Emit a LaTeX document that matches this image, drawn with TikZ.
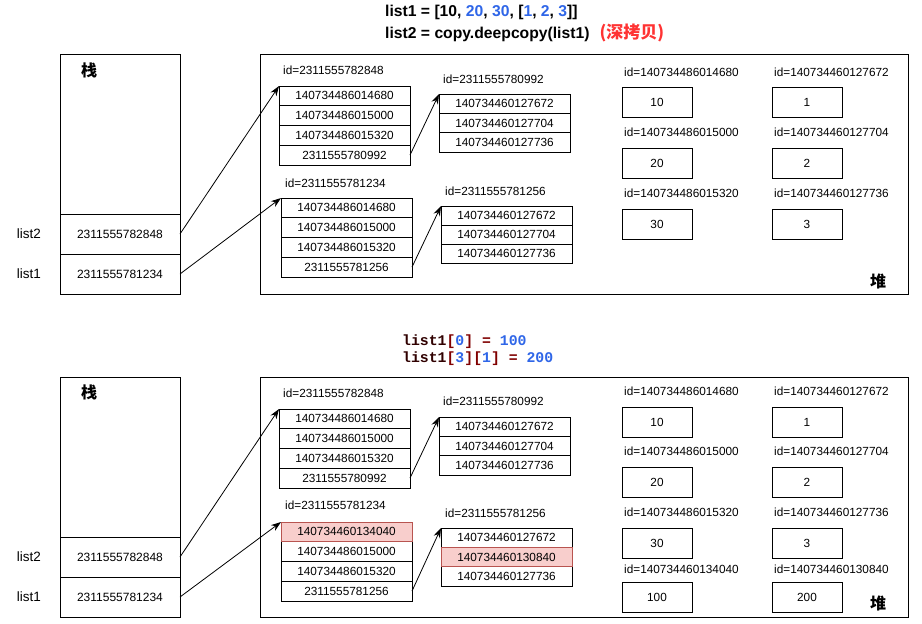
\documentclass[tikz,border=0pt]{standalone}
\usepackage{fontspec}
\setmainfont{Liberation Sans}
\newfontfamily\cjk{Noto Sans CJK SC}
\newfontfamily\codefont{Liberation Mono}
\usetikzlibrary{arrows.meta}
\definecolor{numblue}{HTML}{2F66E8}
\definecolor{cjkred}{HTML}{FF3333}
\definecolor{codered}{HTML}{800000}
\definecolor{codedark}{HTML}{300000}
\definecolor{pinkfill}{HTML}{F8CECC}
\definecolor{pinkdraw}{HTML}{B85450}
\tikzset{
  region/.style={draw, line width=1pt, inner sep=0pt, outer sep=0pt},
  cell/.style={draw, line width=0.9pt, minimum width=131pt, minimum height=19.75pt, inner sep=0pt, outer sep=0pt, font=\fontsize{11.8}{13}\selectfont},
  cellb/.style={cell, minimum height=19.33pt},
  stackcell/.style={draw, line width=1pt, minimum width=120pt, minimum height=40pt, inner sep=0pt, outer sep=0pt, font=\fontsize{12}{13}\selectfont},
  hl/.style={fill=pinkfill, draw=pinkdraw},
  idlbl/.style={anchor=west, inner sep=0pt, font=\fontsize{11.8}{13}\selectfont},
  varlbl/.style={inner sep=0pt, font=\fontsize{13.5}{15}\selectfont},
  valbox/.style={draw, line width=0.9pt, minimum width=70pt, minimum height=30pt, inner sep=0pt, outer sep=0pt, font=\fontsize{11.8}{13}\selectfont},
  cjklbl/.style={inner sep=0pt, font=\cjk\bfseries\fontsize{16}{18}\selectfont},
  ptr/.style={-{Stealth[length=10pt,width=7pt]}, line width=0.8pt},
  titletxt/.style={anchor=base west, inner sep=0pt, font=\bfseries\fontsize{15.7}{18}\selectfont},
  codetxt/.style={anchor=base west, inner sep=0pt, font=\codefont\bfseries\fontsize{14.8}{17}\selectfont}
}
\begin{document}
\begin{tikzpicture}[x=1pt,y=-1pt]
\useasboundingbox (0,0) rectangle (922,624);
\fill[white] (0,0) rectangle (922,624);

% ================= TOP PANEL =================
\node[titletxt] (t1) at (385,16.5) {list1 = [10, \textcolor{numblue}{20}, \textcolor{numblue}{30}, [\textcolor{numblue}{1}, \textcolor{numblue}{2}, \textcolor{numblue}{3}]]};
\node[titletxt] (t2) at (385,38.5) {list2 = copy.deepcopy(list1)\hspace{10pt}{\cjk\color{cjkred}\fontsize{17}{19}\selectfont(深拷贝)}};

\node[region, minimum width=120pt, minimum height=240pt] (stackA) at (120,174) {};
\node[cjklbl] (zhanA) at (89,70) {栈};
\node[stackcell] (sA2) at (120,234) {2311555782848};
\node[stackcell] (sA1) at (120,274) {2311555781234};
\node[varlbl] (vA2) at (29,234) {list2};
\node[varlbl] (vA1) at (29,274) {list1};

\node[region, minimum width=648pt, minimum height=240pt] (heapA) at (584,174) {};
\node[cjklbl] (duiA) at (878,281) {堆};

\node[idlbl] (lAa) at (283,70) {id=2311555782848};
\node[cell] (Aa1) at (344.5,95.9) {140734486014680};
\node[cell] (Aa2) at (344.5,115.6) {140734486015000};
\node[cell] (Aa3) at (344.5,135.4) {140734486015320};
\node[cell] (Aa4) at (344.5,155.1) {2311555780992};

\node[idlbl] (lAb) at (443,79) {id=2311555780992};
\node[cellb] (Ab1) at (504.5,103.7) {140734460127672};
\node[cellb] (Ab2) at (504.5,123) {140734460127704};
\node[cellb] (Ab3) at (504.5,142.3) {140734460127736};

\node[idlbl] (lAc) at (285,183) {id=2311555781234};
\node[cell] (Ac1) at (346.5,207.9) {140734486014680};
\node[cell] (Ac2) at (346.5,227.6) {140734486015000};
\node[cell] (Ac3) at (346.5,247.4) {140734486015320};
\node[cell] (Ac4) at (346.5,267.1) {2311555781256};

\node[idlbl] (lAd) at (445,191) {id=2311555781256};
\node[cell, minimum height=19pt] (Ad1) at (506.5,215.5) {140734460127672};
\node[cell, minimum height=19pt] (Ad2) at (506.5,234.5) {140734460127704};
\node[cell, minimum height=19pt] (Ad3) at (506.5,253.5) {140734460127736};

\node[idlbl] (lAv1) at (624,72) {id=140734486014680};
\node[valbox] (Av1) at (657,102) {10};
\node[idlbl] (lAv2) at (624,132) {id=140734486015000};
\node[valbox] (Av2) at (657,163) {20};
\node[idlbl] (lAv3) at (624,193) {id=140734486015320};
\node[valbox] (Av3) at (657,224) {30};
\node[idlbl] (lAw1) at (774,72) {id=140734460127672};
\node[valbox] (Aw1) at (807,102) {1};
\node[idlbl] (lAw2) at (774,132) {id=140734460127704};
\node[valbox] (Aw2) at (807,163) {2};
\node[idlbl] (lAw3) at (774,193) {id=140734460127736};
\node[valbox] (Aw3) at (807,224) {3};

\draw[ptr] (sA2.east) -- (Aa1.north west);
\draw[ptr] (sA1.east) -- (Ac1.north west);
\draw[ptr] (Aa4.east) -- (Ab1.north west);
\draw[ptr] (Ac4.east) -- (Ad1.north west);

% ================= BOTTOM PANEL =================
\node[codetxt] (c1) at (402,345.5) {{\color{codedark}list1}{\color{codered}[}{\color{numblue}0}{\color{codered}] =} {\color{numblue}100}};
\node[codetxt] (c2) at (402,362.5) {{\color{codedark}list1}{\color{codered}[}{\color{numblue}3}{\color{codered}][}{\color{numblue}1}{\color{codered}] =} {\color{numblue}200}};

\node[region, minimum width=120pt, minimum height=240pt] (stackB) at (120,497) {};
\node[cjklbl] (zhanB) at (89,392) {栈};
\node[stackcell] (sB2) at (120,557) {2311555782848};
\node[stackcell] (sB1) at (120,597) {2311555781234};
\node[varlbl] (vB2) at (29,557) {list2};
\node[varlbl] (vB1) at (29,597) {list1};

\node[region, minimum width=648pt, minimum height=240pt] (heapB) at (584,497) {};
\node[cjklbl] (duiB) at (878,603) {堆};

\node[idlbl] (lBa) at (283,393) {id=2311555782848};
\node[cell] (Ba1) at (344.5,418.9) {140734486014680};
\node[cell] (Ba2) at (344.5,438.6) {140734486015000};
\node[cell] (Ba3) at (344.5,458.4) {140734486015320};
\node[cell] (Ba4) at (344.5,478.1) {2311555780992};

\node[idlbl] (lBb) at (443,401) {id=2311555780992};
\node[cellb] (Bb1) at (504.5,426.7) {140734460127672};
\node[cellb] (Bb2) at (504.5,446) {140734460127704};
\node[cellb] (Bb3) at (504.5,465.3) {140734460127736};

\node[idlbl] (lBc) at (285,505) {id=2311555781234};
\node[cell] (Bc2) at (346.5,551.6) {140734486015000};
\node[cell] (Bc3) at (346.5,571.4) {140734486015320};
\node[cell] (Bc4) at (346.5,591.1) {2311555781256};
\node[cell, hl] (Bc1) at (346.5,531.9) {140734460134040};

\node[idlbl] (lBd) at (445,513) {id=2311555781256};
\node[cellb] (Bd1) at (506.5,537.7) {140734460127672};
\node[cellb] (Bd3) at (506.5,576.3) {140734460127736};
\node[cellb, hl] (Bd2) at (506.5,557) {140734460130840};

\node[idlbl] (lBv1) at (624,391) {id=140734486014680};
\node[valbox] (Bv1) at (657,422) {10};
\node[idlbl] (lBv2) at (624,451) {id=140734486015000};
\node[valbox] (Bv2) at (657,482) {20};
\node[idlbl] (lBv3) at (624,512) {id=140734486015320};
\node[valbox] (Bv3) at (657,543) {30};
\node[idlbl] (lBv4) at (624,569) {id=140734460134040};
\node[valbox] (Bv4) at (657,597) {100};
\node[idlbl] (lBw1) at (774,391) {id=140734460127672};
\node[valbox] (Bw1) at (807,422) {1};
\node[idlbl] (lBw2) at (774,451) {id=140734460127704};
\node[valbox] (Bw2) at (807,482) {2};
\node[idlbl] (lBw3) at (774,512) {id=140734460127736};
\node[valbox] (Bw3) at (807,543) {3};
\node[idlbl] (lBw4) at (774,569) {id=140734460130840};
\node[valbox] (Bw4) at (807,597) {200};

\draw[ptr] (sB2.east) -- (Ba1.north west);
\draw[ptr] (sB1.east) -- (Bc1.north west);
\draw[ptr] (Ba4.east) -- (Bb1.north west);
\draw[ptr] (Bc4.east) -- (Bd1.north west);
\end{tikzpicture}
\end{document}
